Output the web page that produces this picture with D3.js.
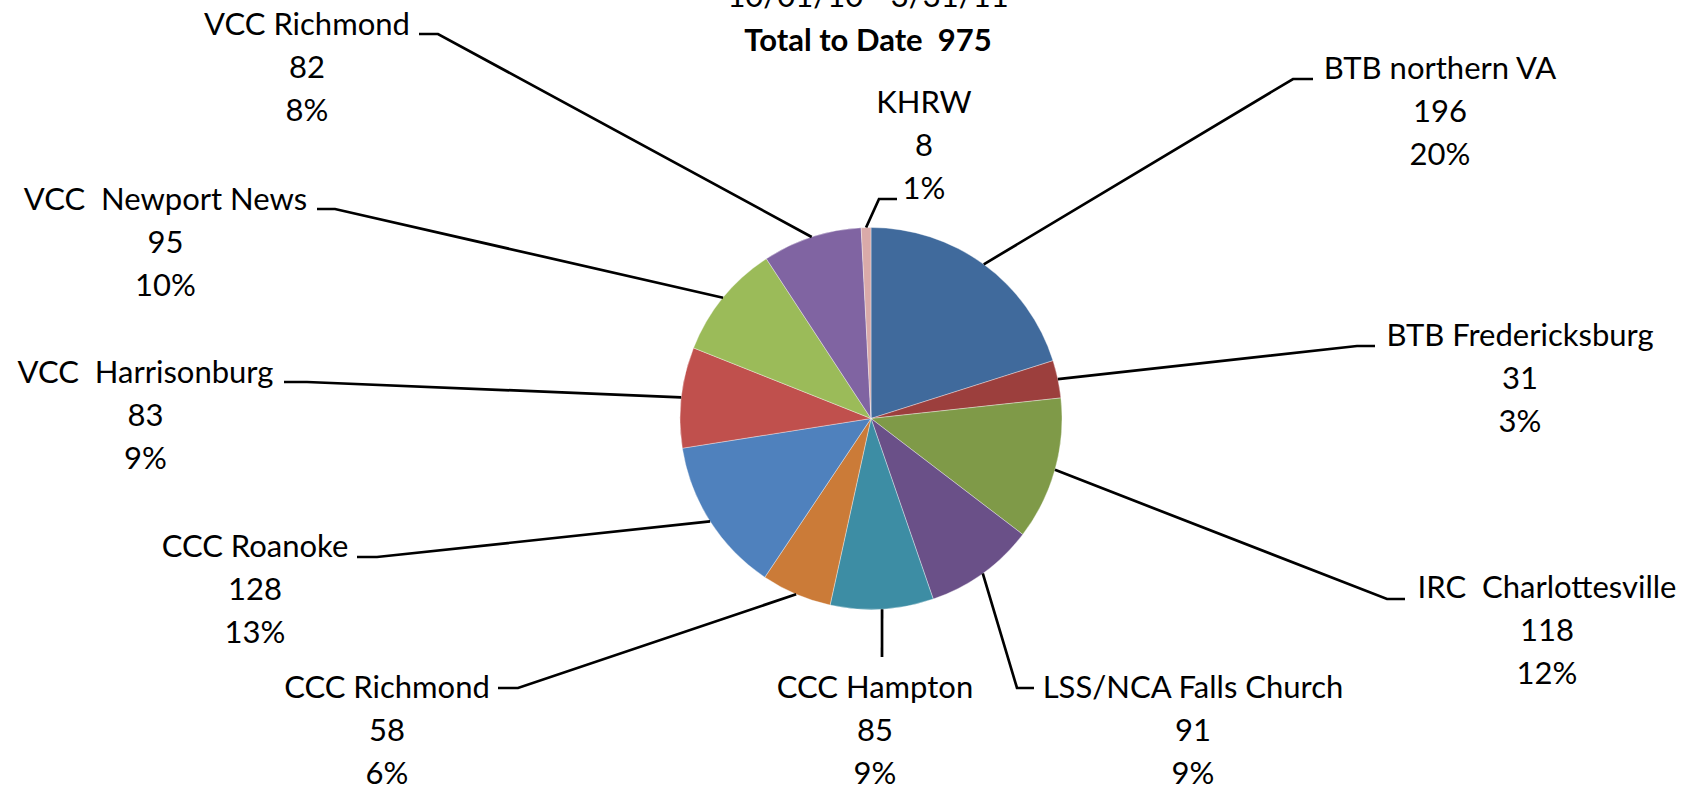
<!DOCTYPE html>
<html><head><meta charset="utf-8">
<script src="https://cdn.jsdelivr.net/npm/d3@7"></script>
<style>
html,body{margin:0;padding:0;background:#fff;}
text{font-family:Lato,"Open Sans",sans-serif;white-space:pre;fill:#000;}
</style></head>
<body>
<svg id="chart" width="1699" height="789"></svg>
<script>
// ---- data ----
const categories = ["BTB northern VA","BTB Fredericksburg","IRC  Charlottesville","LSS/NCA Falls Church","CCC Hampton","CCC Richmond","CCC Roanoke","VCC  Harrisonburg","VCC  Newport News","VCC Richmond","KHRW"];
const values = [196,31,118,91,85,58,128,83,95,82,8];
const titleLines = ["10/01/10 - 3/31/11","Total to Date  975"];

// ---- style / layout ----
const colors = ["#406A9C","#9C3F3D","#7F9A48","#6A5088","#3D8DA4","#CB7B38","#4F81BD","#C0504D","#9BBB59","#8064A2","#D9AAA9"];
const cx = 871, cy = 418.5, R = 191;
const fontSize = 31, lineH = 43;
// label centre x, first baseline y, leader points from label side toward pie
const labelLayout = [
  {lx:1440, ly:79,  leader:[[1313,79],[1293,79]]},
  {lx:1520, ly:346, leader:[[1375,346],[1357,346]]},
  {lx:1547, ly:598, leader:[[1405,599],[1387,599]]},
  {lx:1193, ly:698, leader:[[1034,688],[1017,688]]},
  {lx:875,  ly:698, leader:[[882,657]]},
  {lx:387,  ly:698, leader:[[498,688],[518,688]]},
  {lx:255,  ly:557, leader:[[357,557],[377,557]]},
  {lx:145.5,ly:383, leader:[[284,382],[307,382]]},
  {lx:165.5,ly:210, leader:[[317,209],[335,209]]},
  {lx:307,  ly:35,  leader:[[419,34],[438,34]]},
  {lx:924,  ly:113, leader:[[897,199],[879,199]]}
];

const svg = d3.select("#chart");
const total = d3.sum(values);
const data = categories.map((c,i)=>({name:c, value:values[i], i}));

const pie = d3.pie().sort(null).value(d=>d.value).startAngle(0).endAngle(2*Math.PI);
const arcs = pie(data);
const arc = d3.arc().innerRadius(0).outerRadius(R);
const edge = d3.arc().innerRadius(R).outerRadius(R);

const g = svg.append("g").attr("transform",`translate(${cx},${cy})`);
g.selectAll("path.slice").data(arcs).join("path")
  .attr("class","slice")
  .attr("d",arc)
  .attr("fill",d=>colors[d.data.i])
  .attr("stroke","#ffffff").attr("stroke-width",0.6).attr("stroke-opacity",0.6);

// leader lines
const line = d3.line();
svg.selectAll("path.leader").data(arcs).join("path")
  .attr("class","leader")
  .attr("d",d=>{
    const c = edge.centroid(d);
    const pts = labelLayout[d.data.i].leader.concat([[cx+c[0],cy+c[1]]]);
    return line(pts);
  })
  .attr("fill","none").attr("stroke","#000").attr("stroke-width",2.7);

// labels
const fmtPct = v => Math.round(v/total*100)+"%";
const lab = svg.selectAll("text.lab").data(arcs).join("text")
  .attr("class","lab")
  .attr("text-anchor","middle")
  .style("font-size",fontSize+"px");
lab.each(function(d){
  const L = labelLayout[d.data.i];
  const t = d3.select(this);
  [d.data.name, String(d.data.value), fmtPct(d.data.value)].forEach((s,k)=>{
    t.append("tspan").attr("x",L.lx).attr("y",L.ly+k*lineH).text(s);
  });
});

// title
svg.append("text").attr("x",868).attr("y",7).attr("text-anchor","middle")
  .style("font-size",fontSize+"px").text(titleLines[0]);
svg.append("text").attr("x",868).attr("y",51).attr("text-anchor","middle")
  .style("font-size",fontSize+"px").style("font-weight","bold").text(titleLines[1]);
</script>
</body></html>
